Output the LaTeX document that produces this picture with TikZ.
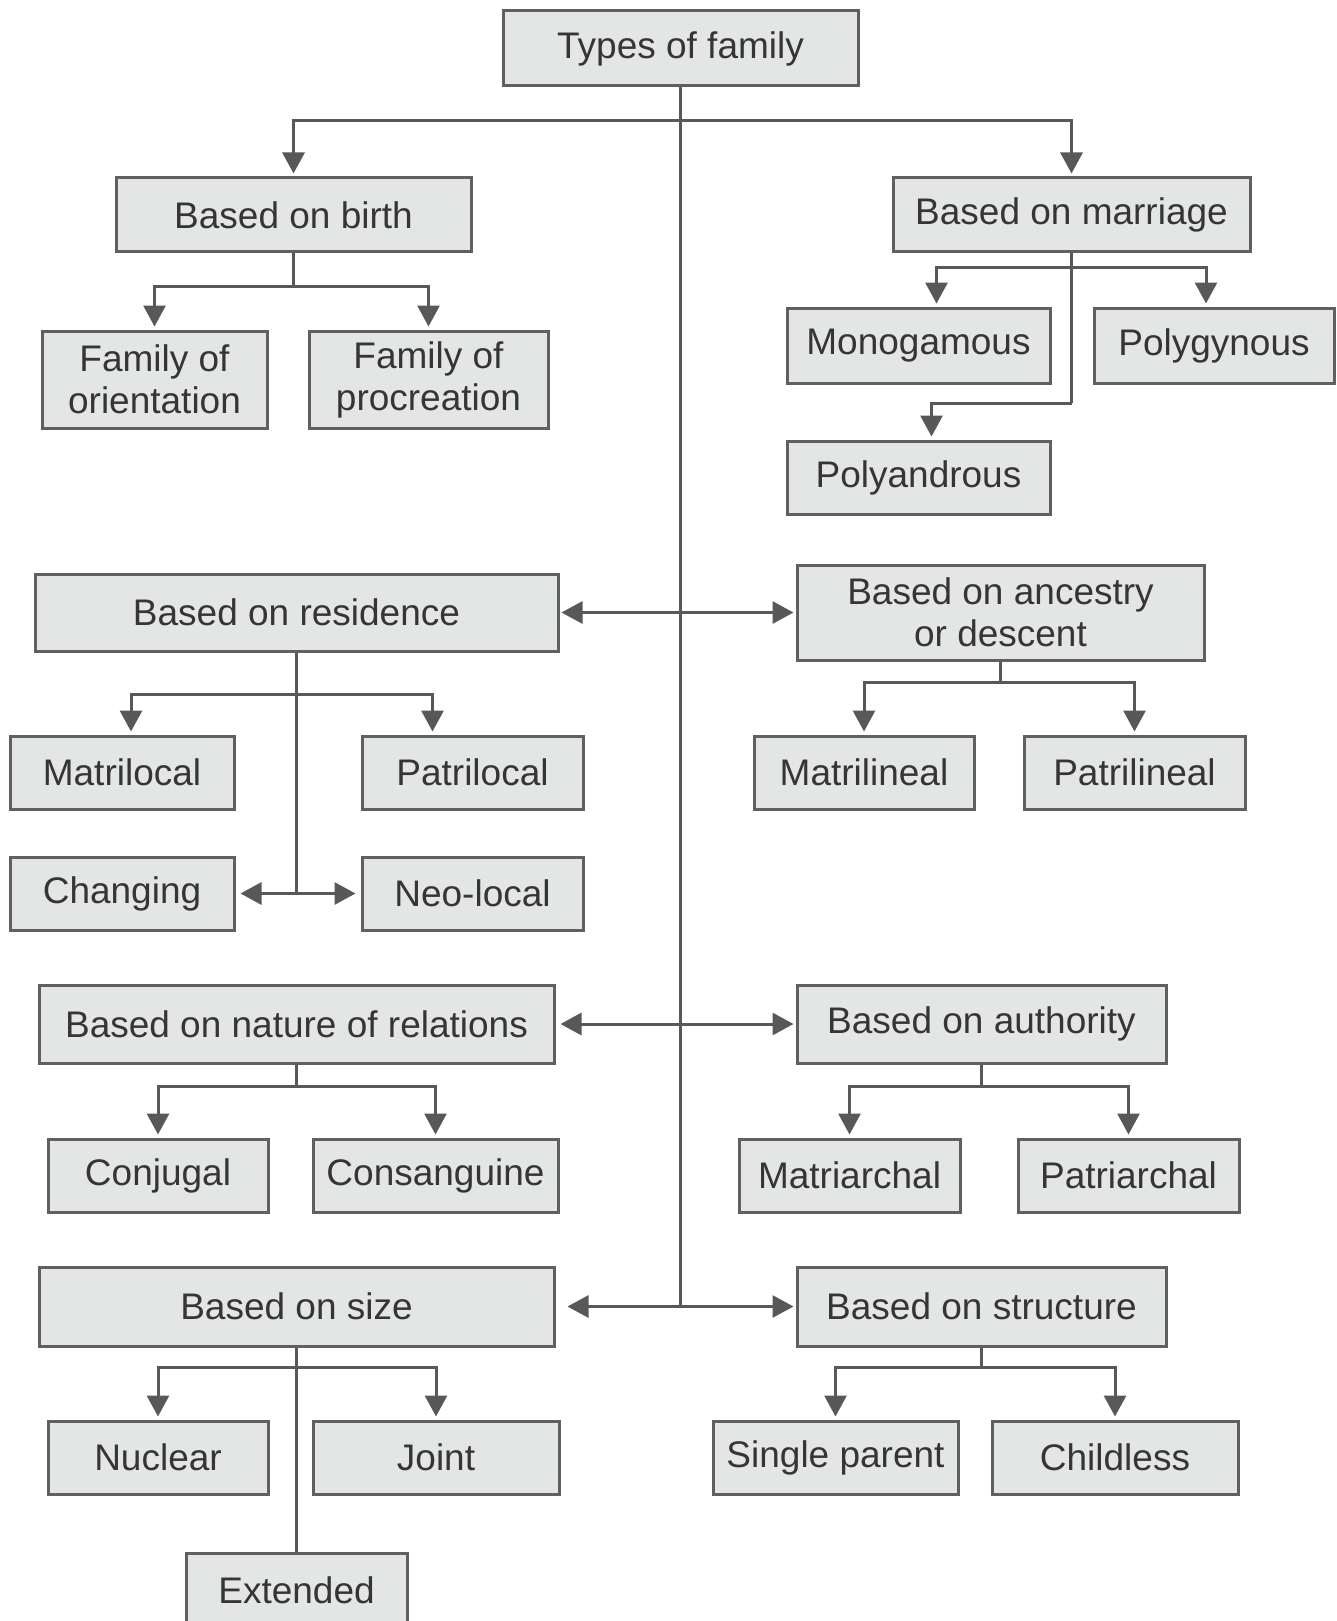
\documentclass[tikz,border=0pt]{standalone}
\usepackage{fontspec}
\setmainfont{Liberation Sans}
\usetikzlibrary{arrows.meta}

\definecolor{boxfill}{HTML}{E4E6E6}
\definecolor{boxline}{HTML}{606060}
\definecolor{wirecol}{HTML}{585858}
\definecolor{ink}{HTML}{353535}

% \fambox{name}{left}{top}{right}{bottom}{text}
\newcommand\fambox[6]{%
  \node[fbox, minimum width={#4-#2}, minimum height={#5-#3}]
    (#1) at ({(#2+#4)/2},{(#3+#5)/2}) {#6};}

\begin{document}
\begin{tikzpicture}[x=1pt,y=-1pt,
  fbox/.style={draw=boxline, fill=boxfill, line width=3pt, inner sep=0pt,
    text=ink, font=\fontsize{37}{42}\selectfont, align=center},
  wire/.style={draw=wirecol, line width=3pt},
  tip/.tip={Triangle[length=21pt,width=22pt]},
  arr/.style={wire, -tip, shorten >=3pt},
  darr/.style={wire, tip-tip, shorten >=2pt, shorten <=2pt}]

\clip (0,0) rectangle (1336,1621);
\fill[white] (0,0) rectangle (1336,1621);

% boxes
\fambox{top}{503}{11}{858}{86}{Types of family}
\fambox{birth}{116}{178}{471}{252}{Based on birth}
\fambox{marriage}{893}{178}{1250}{252}{Based on marriage}
\fambox{orient}{42}{331}{267}{428}{Family of\\orientation}
\fambox{procr}{309}{331}{548}{428}{Family of\\procreation}
\fambox{mono}{787}{308}{1050}{383}{Monogamous}
\fambox{polyg}{1094}{308}{1334}{383}{Polygynous}
\fambox{polya}{787}{441}{1050}{514}{Polyandrous}
\fambox{resid}{35}{574}{558}{651}{Based on residence}
\fambox{ances}{797}{565}{1204}{660}{Based on ancestry\\or descent}
\fambox{matrilocal}{10}{736}{234}{809}{Matrilocal}
\fambox{patrilocal}{362}{736}{583}{809}{Patrilocal}
\fambox{changing}{10}{857}{234}{930}{Changing}
\fambox{neolocal}{362}{857}{583}{930}{Neo-local}
\fambox{matrilin}{754}{736}{974}{809}{Matrilineal}
\fambox{patrilin}{1024}{736}{1245}{809}{Patrilineal}
\fambox{nature}{39}{985}{554}{1063}{Based on nature of relations}
\fambox{auth}{797}{985}{1166}{1063}{Based on authority}
\fambox{conj}{48}{1139}{268}{1212}{Conjugal}
\fambox{consang}{313}{1139}{558}{1212}{Consanguine}
\fambox{matriarch}{739}{1139}{960}{1212}{Matriarchal}
\fambox{patriarch}{1018}{1139}{1239}{1212}{Patriarchal}
\fambox{size}{39}{1267}{554}{1346}{Based on size}
\fambox{struct}{797}{1267}{1166}{1346}{Based on structure}
\fambox{nuclear}{48}{1421}{268}{1494}{Nuclear}
\fambox{joint}{313}{1421}{559}{1494}{Joint}
\fambox{extended}{186}{1553}{407}{1627}{Extended}
\fambox{single}{713}{1421}{958}{1494}{Single parent}
\fambox{childless}{992}{1421}{1238}{1494}{Childless}

% junction points
\coordinate (tb) at (680.5,121);
\coordinate (bj) at (293.5,286);
\coordinate (mj) at (1071.5,267);
\coordinate (mk) at (1071.5,403);
\coordinate (rj) at (296.5,694);
\coordinate (aj) at (1000.5,682);
\coordinate (nj) at (296.5,1086);
\coordinate (uj) at (981.5,1086);
\coordinate (sj) at (296.5,1367);
\coordinate (tj) at (981.5,1367);

% trunk
\draw[wire] (top.south) -- (top.south |- size.east);
\draw[arr] (tb) -| (birth.north);
\draw[arr] (tb) -| (marriage.north);

% by birth
\draw[wire] (birth.south) -- (bj);
\draw[arr] (bj) -| (orient.north);
\draw[arr] (bj) -| (procr.north);

% by marriage
\draw[wire] (marriage.south) -- (mk);
\draw[arr] (mj) -| ([xshift=18pt]mono.north);
\draw[arr] (mj) -| ([xshift=-8pt]polyg.north);
\draw[arr] (mk) -| ([xshift=13pt]polya.north);

% residence / descent
\draw[darr] (resid.east) -- (ances.west);
\draw[wire] (resid.south) -- (resid.south |- changing.east);
\draw[arr] (rj) -| ([xshift=9pt]matrilocal.north);
\draw[arr] (rj) -| ([xshift=-40pt]patrilocal.north);
\draw[darr, shorten <=5pt, shorten >=5pt] (changing.east) -- (neolocal.west);
\draw[wire] (ances.south) -- (aj);
\draw[arr] (aj) -| (matrilin.north);
\draw[arr] (aj) -| (patrilin.north);

% relations / authority
\draw[darr, shorten <=5pt] (nature.east) -- (auth.west);
\draw[wire] (nature.south) -- (nj);
\draw[arr] (nj) -| (conj.north);
\draw[arr] (nj) -| (consang.north);
\draw[wire] (auth.south) -- (uj);
\draw[arr] (uj) -| (matriarch.north);
\draw[arr] (uj) -| (patriarch.north);

% size / structure
\draw[darr, shorten <=12pt] (size.east) -- (struct.west);
\draw[wire] (size.south) -- (extended.north);
\draw[arr] (sj) -| (nuclear.north);
\draw[arr] (sj) -| (joint.north);
\draw[wire] (struct.south) -- (tj);
\draw[arr] (tj) -| (single.north);
\draw[arr] (tj) -| (childless.north);
\end{tikzpicture}
\end{document}
